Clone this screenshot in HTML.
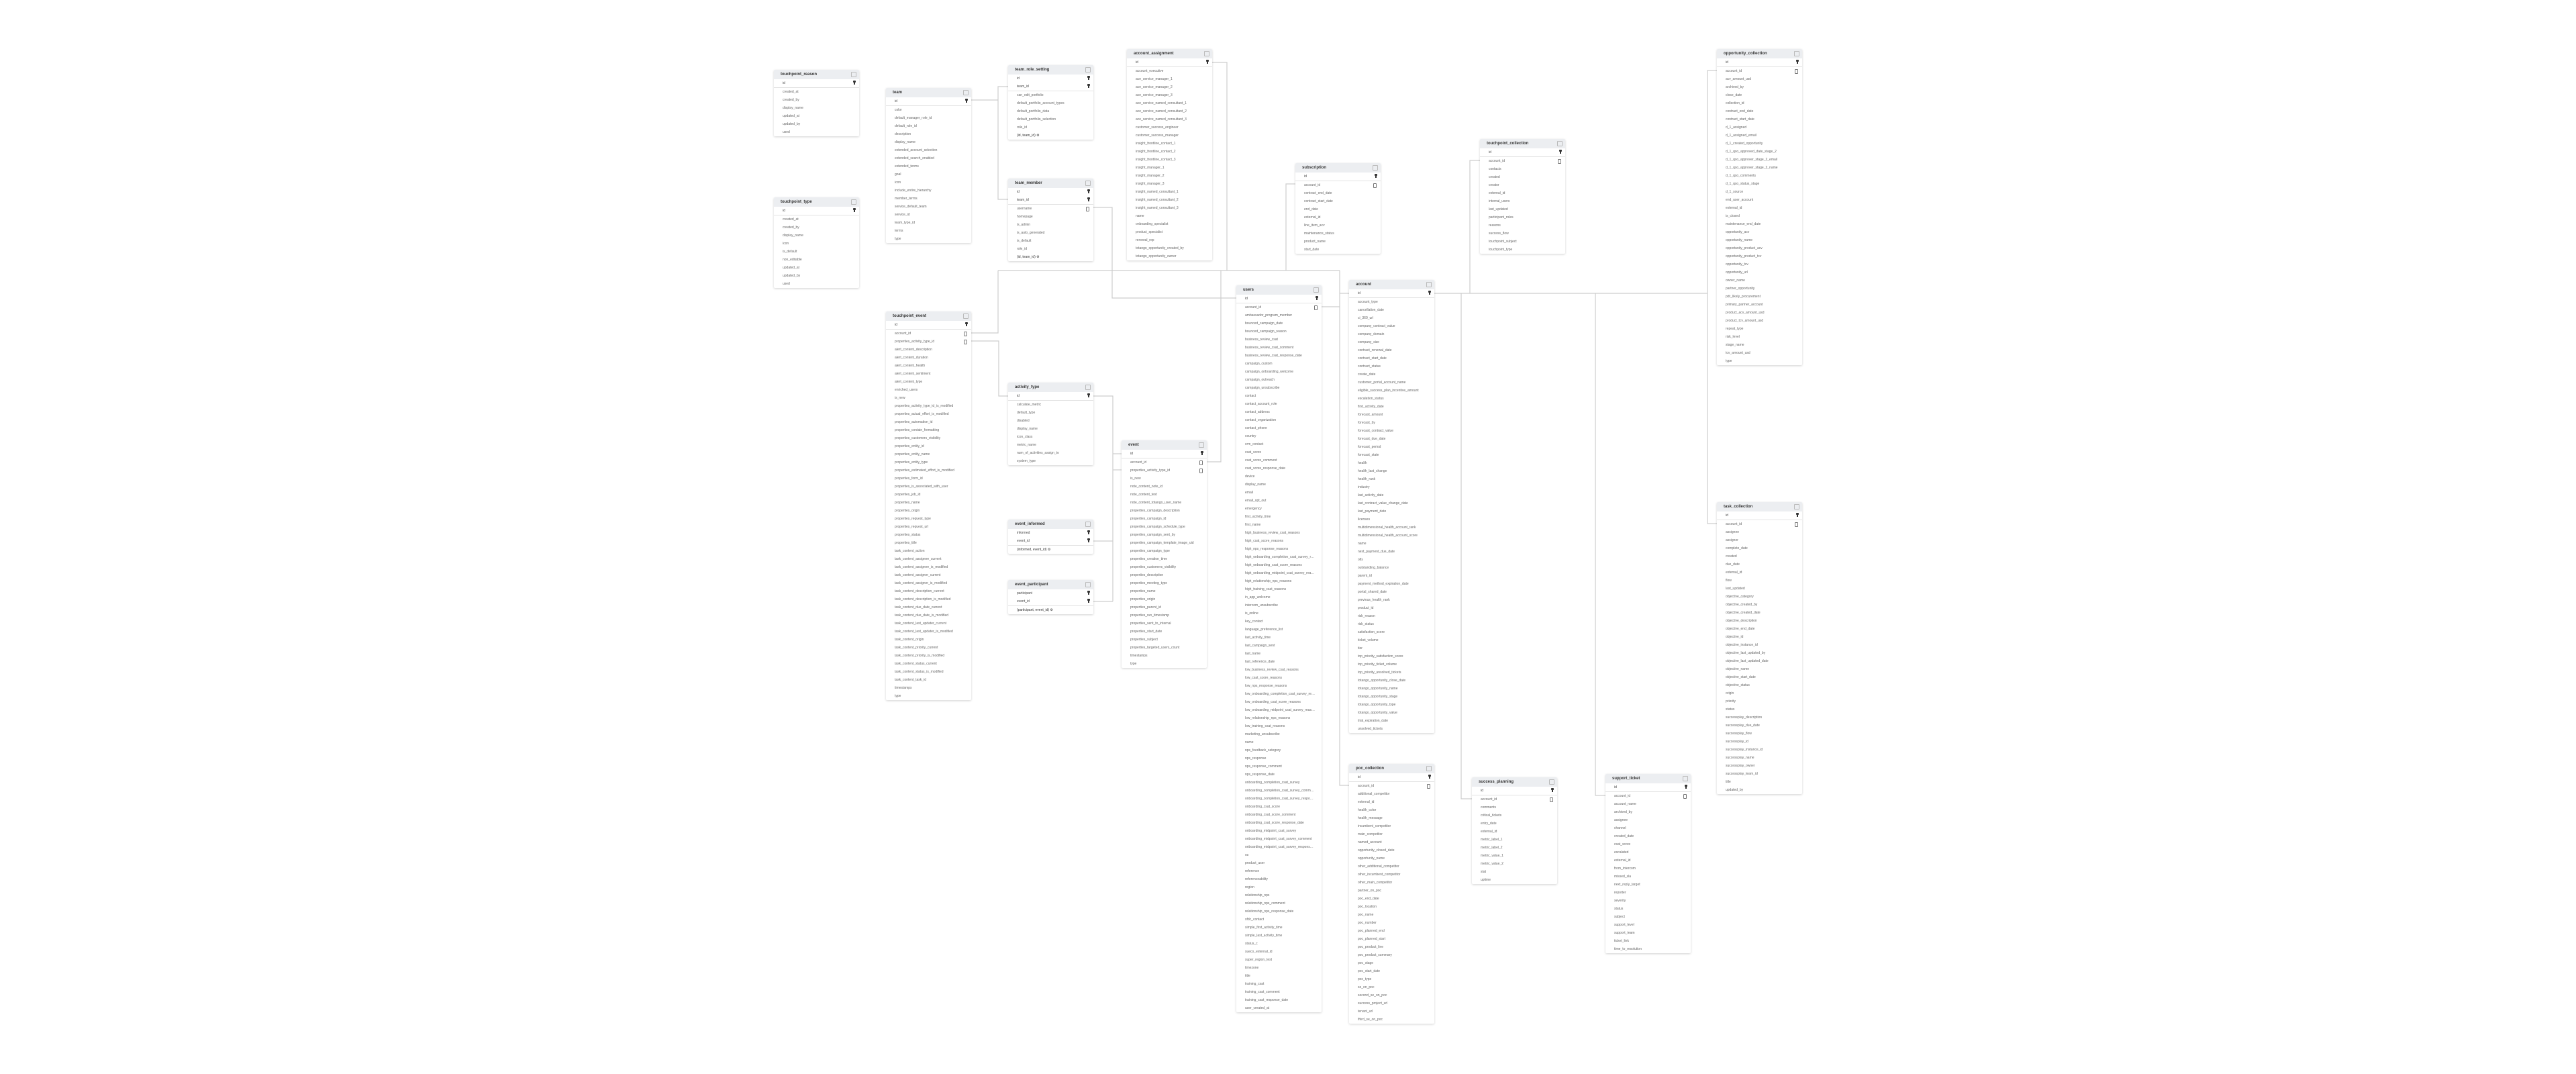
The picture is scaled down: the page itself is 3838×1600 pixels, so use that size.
<!DOCTYPE html>
<html><head><meta charset="utf-8">
<style>
html,body{margin:0;padding:0;background:#fff;}
body{width:3838px;height:1600px;position:relative;overflow:hidden;font-family:"Liberation Sans",sans-serif;}
svg.lines{position:absolute;left:0;top:0;}
.t{position:absolute;width:127px;background:#fff;box-shadow:0 1px 3px rgba(0,0,0,0.18);border-radius:2px;}
.h{height:14px;background:#eceef1;font-size:6px;font-weight:bold;color:#333;line-height:14px;padding-left:10px;position:relative;border-radius:2px 2px 0 0;}
.h i{position:absolute;right:4px;top:3px;width:6px;height:6px;border:1px solid #bbb;border-radius:1px;}
.r{height:12px;line-height:12px;font-size:5px;color:#666;padding-left:13px;position:relative;white-space:nowrap;overflow:hidden;}
.pk{color:#444;}
.sep{border-bottom:1.5px solid #e2e2e2;}
.r b{position:absolute;right:6px;top:3px;width:2px;height:5px;background:#333;}
.r b:before{content:"";position:absolute;left:-1px;top:-1px;width:4px;height:3px;background:#333;border-radius:1px;}
.r u{position:absolute;right:6px;top:3px;width:3px;height:5px;border:1px solid #777;border-radius:1px;}
.c{color:#333;}
</style></head><body>
<svg class="lines" width="3838" height="1600" xmlns="http://www.w3.org/2000/svg">
<g fill="none" stroke="#cdcdcd" stroke-width="1.2">
<polyline points="1447,149 1487,149"/>
<polyline points="1502,129 1487,129 1487,297 1502,297"/>
<polyline points="1629,309 1657,309 1657,444 1842,444"/>
<polyline points="1487,403 1996,403"/>
<polyline points="1996,403 1996,1170 2010,1170"/>
<polyline points="1969,457 1996,457"/>
<polyline points="1996,437 2010,437"/>
<polyline points="1806,93 1828,93 1828,403"/>
<polyline points="1930,274 1916,274 1916,403"/>
<polyline points="1487,403 1487,496 1447,496"/>
<polyline points="1798,688 1819,688 1819,403"/>
<polyline points="2137,437 2544,437"/>
<polyline points="2205,239 2190,239 2190,437"/>
<polyline points="2558,105 2544,105 2544,780 2558,780"/>
<polyline points="2177,437 2177,1190 2193,1190"/>
<polyline points="2377,437 2377,1185 2392,1185"/>
<polyline points="1447,508 1488,508 1488,590 1502,590"/>
<polyline points="1629,590 1658,590 1658,896"/>
<polyline points="1658,676 1671,676"/>
<polyline points="1658,700 1671,700"/>
<polyline points="1629,806 1658,806"/>
<polyline points="1629,896 1658,896"/>
</g></svg>
<div id="root"></div>
<script>
var T=[
["touchpoint_reason",1153,104,["id"],["created_at","created_by","display_name","updated_at","updated_by","used"],null,[]],
["touchpoint_type",1153,294,["id"],["created_at","created_by","display_name","icon","is_default","non_editable","updated_at","updated_by","used"],null,[]],
["team",1320,131,["id"],["color","default_manager_role_id","default_role_id","description","display_name","extended_account_selection","extended_search_enabled","extended_terms","goal","icon","include_entire_hierarchy","member_terms","service_default_team","service_id","team_type_id","terms","type"],null,[]],
["team_role_setting",1502,97,["id","team_id"],["can_edit_portfolio","default_portfolio_account_types","default_portfolio_data","default_portfolio_selection","role_id"],"(id, team_id) ⚙",[]],
["team_member",1502,266,["id","team_id"],["username","homepage","is_admin","is_auto_generated","is_default","role_id"],"(id, team_id) ⚙",["username"]],
["account_assignment",1679,73,["id"],["account_executive","ace_service_manager_1","ace_service_manager_2","ace_service_manager_3","ace_service_named_consultant_1","ace_service_named_consultant_2","ace_service_named_consultant_3","customer_success_engineer","customer_success_manager","insight_frontline_contact_1","insight_frontline_contact_2","insight_frontline_contact_3","insight_manager_1","insight_manager_2","insight_manager_3","insight_named_consultant_1","insight_named_consultant_2","insight_named_consultant_3","name","onboarding_specialist","product_specialist","renewal_rep","totango_opportunity_created_by","totango_opportunity_owner"],null,[]],
["subscription",1930,243,["id"],["account_id","contract_end_date","contract_start_date","end_date","external_id","line_item_acv","maintenance_status","product_name","start_date"],null,["account_id"]],
["touchpoint_collection",2205,207,["id"],["account_id","contacts","created","creator","external_id","internal_users","last_updated","participant_roles","reasons","success_flow","touchpoint_subject","touchpoint_type"],null,["account_id"]],
["opportunity_collection",2558,73,["id"],["account_id","acv_amount_usd","archived_by","close_date","collection_id","contract_end_date","contract_start_date","d_1_assigned","d_1_assigned_email","d_1_created_opportunity","d_1_qso_approved_date_stage_2","d_1_qso_approver_stage_2_email","d_1_qso_approver_stage_2_name","d_1_qso_comments","d_1_qso_status_stage","d_1_source","end_user_account","external_id","is_closed","maintenance_end_date","opportunity_acv","opportunity_name","opportunity_product_acv","opportunity_product_tcv","opportunity_tcv","opportunity_url","owner_name","partner_opportunity","pdr_likely_procurement","primary_partner_account","product_acv_amount_usd","product_tcv_amount_usd","repeat_type","risk_level","stage_name","tcv_amount_usd","type"],null,["account_id"]],
["touchpoint_event",1320,464,["id"],["account_id","properties_activity_type_id","alert_content_description","alert_content_duration","alert_content_health","alert_content_sentiment","alert_content_type","enriched_users","is_new","properties_activity_type_id_is_modified","properties_actual_effort_is_modified","properties_automation_id","properties_contain_formatting","properties_customers_visibility","properties_entity_id","properties_entity_name","properties_entity_type","properties_estimated_effort_is_modified","properties_form_id","properties_is_associated_with_user","properties_job_id","properties_name","properties_origin","properties_request_type","properties_request_url","properties_status","properties_title","task_content_action","task_content_assignee_current","task_content_assignee_is_modified","task_content_assigner_current","task_content_assigner_is_modified","task_content_description_current","task_content_description_is_modified","task_content_due_date_current","task_content_due_date_is_modified","task_content_last_updater_current","task_content_last_updater_is_modified","task_content_origin","task_content_priority_current","task_content_priority_is_modified","task_content_status_current","task_content_status_is_modified","task_content_task_id","timestamps","type"],null,["account_id","properties_activity_type_id"]],
["activity_type",1502,570,["id"],["calculate_metric","default_type","disabled","display_name","icon_class","metric_name","num_of_activities_assign_to","system_type"],null,[]],
["event_informed",1502,774,["informed","event_id"],[],"(informed, event_id) ⚙",[]],
["event_participant",1502,864,["participant","event_id"],[],"(participant, event_id) ⚙",[]],
["event",1671,656,["id"],["account_id","properties_activity_type_id","is_new","note_content_note_id","note_content_text","note_content_totango_user_name","properties_campaign_description","properties_campaign_id","properties_campaign_schedule_type","properties_campaign_sent_by","properties_campaign_template_image_uid","properties_campaign_type","properties_creation_time","properties_customers_visibility","properties_description","properties_meeting_type","properties_name","properties_origin","properties_parent_id","properties_run_timestamp","properties_sent_to_internal","properties_start_date","properties_subject","properties_targeted_users_count","timestamps","type"],null,["account_id","properties_activity_type_id"]],
["users",1842,425,["id"],["account_id","ambassador_program_member","bounced_campaign_date","bounced_campaign_reason","business_review_csat","business_review_csat_comment","business_review_csat_response_date","campaign_custom","campaign_onboarding_welcome","campaign_outreach","campaign_unsubscribe","contact","contact_account_role","contact_address","contact_organization","contact_phone","country","crm_contact","csat_score","csat_score_comment","csat_score_response_date","device","display_name","email","email_opt_out","emergency","first_activity_time","first_name","high_business_review_csat_reasons","high_csat_score_reasons","high_nps_response_reasons","high_onboarding_completion_csat_survey_r…","high_onboarding_csat_score_reasons","high_onboarding_midpoint_csat_survey_rea…","high_relationship_nps_reasons","high_training_csat_reasons","in_app_welcome","intercom_unsubscribe","is_online","key_contact","language_preference_list","last_activity_time","last_campaign_sent","last_name","last_reference_date","low_business_review_csat_reasons","low_csat_score_reasons","low_nps_response_reasons","low_onboarding_completion_csat_survey_re…","low_onboarding_csat_score_reasons","low_onboarding_midpoint_csat_survey_reas…","low_relationship_nps_reasons","low_training_csat_reasons","marketing_unsubscribe","name","nps_feedback_category","nps_response","nps_response_comment","nps_response_date","onboarding_completion_csat_survey","onboarding_completion_csat_survey_comm…","onboarding_completion_csat_survey_respo…","onboarding_csat_score","onboarding_csat_score_comment","onboarding_csat_score_response_date","onboarding_midpoint_csat_survey","onboarding_midpoint_csat_survey_comment","onboarding_midpoint_csat_survey_respons…","os","product_user","reference","referenceability","region","relationship_nps","relationship_nps_comment","relationship_nps_response_date","sfdc_contact","simple_first_activity_time","simple_last_activity_time","status_c","sueco_external_id","super_region_test","timezone","title","training_csat","training_csat_comment","training_csat_response_date","user_created_at"],null,["account_id"]],
["account",2010,417,["id"],["account_type","cancellation_date","ci_360_url","company_contract_value","company_domain","company_size","contract_renewal_date","contract_start_date","contract_status","create_date","customer_portal_account_name","eligible_success_plan_incentive_amount","escalation_status","first_activity_date","forecast_amount","forecast_by","forecast_contract_value","forecast_due_date","forecast_period","forecast_state","health","health_last_change","health_rank","industry","last_activity_date","last_contract_value_change_date","last_payment_date","licenses","multidimensional_health_account_rank","multidimensional_health_account_score","name","next_payment_due_date","ofis","outstanding_balance","parent_id","payment_method_expiration_date","portal_shared_date","previous_health_rank","product_id","risk_reason","risk_status","satisfaction_score","ticket_volume","tier","top_priority_satisfaction_score","top_priority_ticket_volume","top_priority_unsolved_tickets","totango_opportunity_close_date","totango_opportunity_name","totango_opportunity_stage","totango_opportunity_type","totango_opportunity_value","trial_expiration_date","unsolved_tickets"],null,[]],
["poc_collection",2010,1138,["id"],["account_id","additional_competitor","external_id","health_color","health_message","incumbent_competitor","main_competitor","named_account","opportunity_closed_date","opportunity_name","other_additional_competitor","other_incumbent_competitor","other_main_competitor","partner_on_poc","poc_end_date","poc_location","poc_name","poc_number","poc_planned_end","poc_planned_start","poc_product_line","poc_product_summary","poc_stage","poc_start_date","poc_type","se_on_poc","second_se_on_poc","success_project_url","tenant_url","third_se_on_poc"],null,["account_id"]],
["success_planning",2193,1158,["id"],["account_id","comments","critical_tickets","entry_date","external_id","metric_label_1","metric_label_2","metric_value_1","metric_value_2","stat","uptime"],null,["account_id"]],
["support_ticket",2392,1153,["id"],["account_id","account_name","archived_by","assignee","channel","created_date","csat_score","escalated","external_id","from_intercom","missed_sla","next_reply_target","reporter","severity","status","subject","support_level","support_team","ticket_link","time_to_resolution"],null,["account_id"]],
["task_collection",2558,748,["id"],["account_id","assignee","assigner","complete_date","created","due_date","external_id","flow","last_updated","objective_category","objective_created_by","objective_created_date","objective_description","objective_end_date","objective_id","objective_instance_id","objective_last_updated_by","objective_last_updated_date","objective_name","objective_start_date","objective_status","origin","priority","status","successplay_description","successplay_due_date","successplay_flow","successplay_id","successplay_instance_id","successplay_name","successplay_owner","successplay_team_id","title","updated_by"],null,["account_id"]]
];
var h="";
T.forEach(function(t){
  h+='<div class="t" style="left:'+t[1]+'px;top:'+t[2]+'px"><div class="h">'+t[0]+'<i></i></div>';
  t[3].forEach(function(p,i){h+='<div class="r pk'+(i==t[3].length-1?' sep':'')+'">'+p+'<b></b></div>';});
  t[4].forEach(function(f){h+='<div class="r">'+f+(t[6].indexOf(f)>=0?'<u></u>':'')+'</div>';});
  if(t[5])h+='<div class="r c">'+t[5]+'</div>';
  h+='</div>';
});
document.getElementById("root").innerHTML=h;
</script>
</body></html>
